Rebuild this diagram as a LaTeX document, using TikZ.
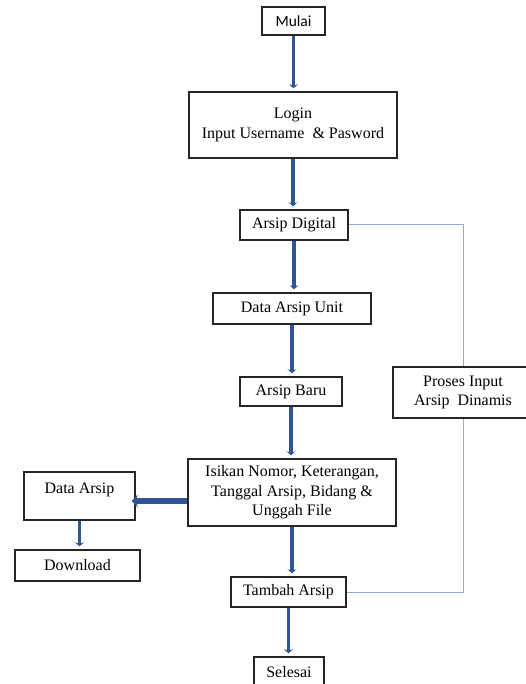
\documentclass[tikz,border=0pt]{standalone}
\usepackage{fontspec}
\setmainfont{Liberation Serif}
\newfontfamily\calibri{Carlito}
\usetikzlibrary{arrows.meta}
\definecolor{flowblue}{RGB}{47,85,151}
\definecolor{thinblue}{RGB}{143,170,220}
\tikzset{
  box/.style={draw=black!85, line width=1.4pt, inner sep=0pt, align=center,
    font=\fontsize{16}{19.5}\selectfont},
  flow/.style={draw=flowblue, line width=3.6pt, -{Stealth[length=4pt,width=9pt]}, shorten >=3pt},
  bigflow/.style={draw=flowblue, line width=5.5pt, -{Stealth[length=6pt,width=13pt]}},
  link/.style={draw=thinblue, line width=1pt}
}
\begin{document}
\begin{tikzpicture}[x=1pt,y=-1pt]
\useasboundingbox (0,0) rectangle (526,684);
\node[box, minimum width=63pt, minimum height=28pt, font=\calibri\fontsize{15.5}{18}\selectfont] (mu) at (293.5,21) {Mulai};
\node[box, minimum width=208pt, minimum height=66pt] (lo) at (293,125) {Login\\Input Username \ \& Pasword};
\node[box, minimum width=108pt, minimum height=30pt] (ad) at (294,225) {Arsip Digital};
\node[box, minimum width=158pt, minimum height=31pt] (du) at (292,308.5) {Data Arsip Unit};
\node[box, minimum width=102pt, minimum height=29pt] (ab) at (291,391.5) {Arsip Baru};
\node[box, minimum width=140pt, minimum height=51pt] (pr) at (463,392.5) {Proses Input\\Arsip \ Dinamis};
\node[box, minimum width=208pt, minimum height=67pt] (is) at (292,492.5) {Isikan Nomor, Keterangan,\\Tanggal Arsip, Bidang \&\\Unggah File};
\node[box, minimum width=111pt, minimum height=48pt] (da) at (79.5,496) {\raisebox{6pt}[\height][\depth]{Data Arsip}};
\node[box, minimum width=125pt, minimum height=31pt] (dl) at (77.5,565.5) {Download};
\node[box, minimum width=115pt, minimum height=30pt] (ta) at (288.5,592) {Tambah Arsip};
\node[box, minimum width=70pt, minimum height=30pt] (se) at (289,672) {Selesai};
\coordinate (ly) at (0,501);
\draw[flow] (mu.south) -- (mu.south |- lo.north);
\draw[flow] (lo.south) -- (lo.south |- ad.north);
\draw[flow] (ad.south) -- (ad.south |- du.north);
\draw[flow] (du.south) -- (du.south |- ab.north);
\draw[flow] (ab.south) -- (ab.south |- is.north);
\draw[flow] (is.south) -- (is.south |- ta.north);
\draw[flow] (ta.south) -- (ta.south |- se.north);
\draw[flow] (da.south) -- (da.south |- dl.north);
\draw[bigflow] (is.west |- ly) -- ([xshift=-4pt]da.east |- ly);
\draw[link] (ad.east) -| (pr.north);
\draw[link] (ta.east) -| (pr.south);
\end{tikzpicture}
\end{document}
